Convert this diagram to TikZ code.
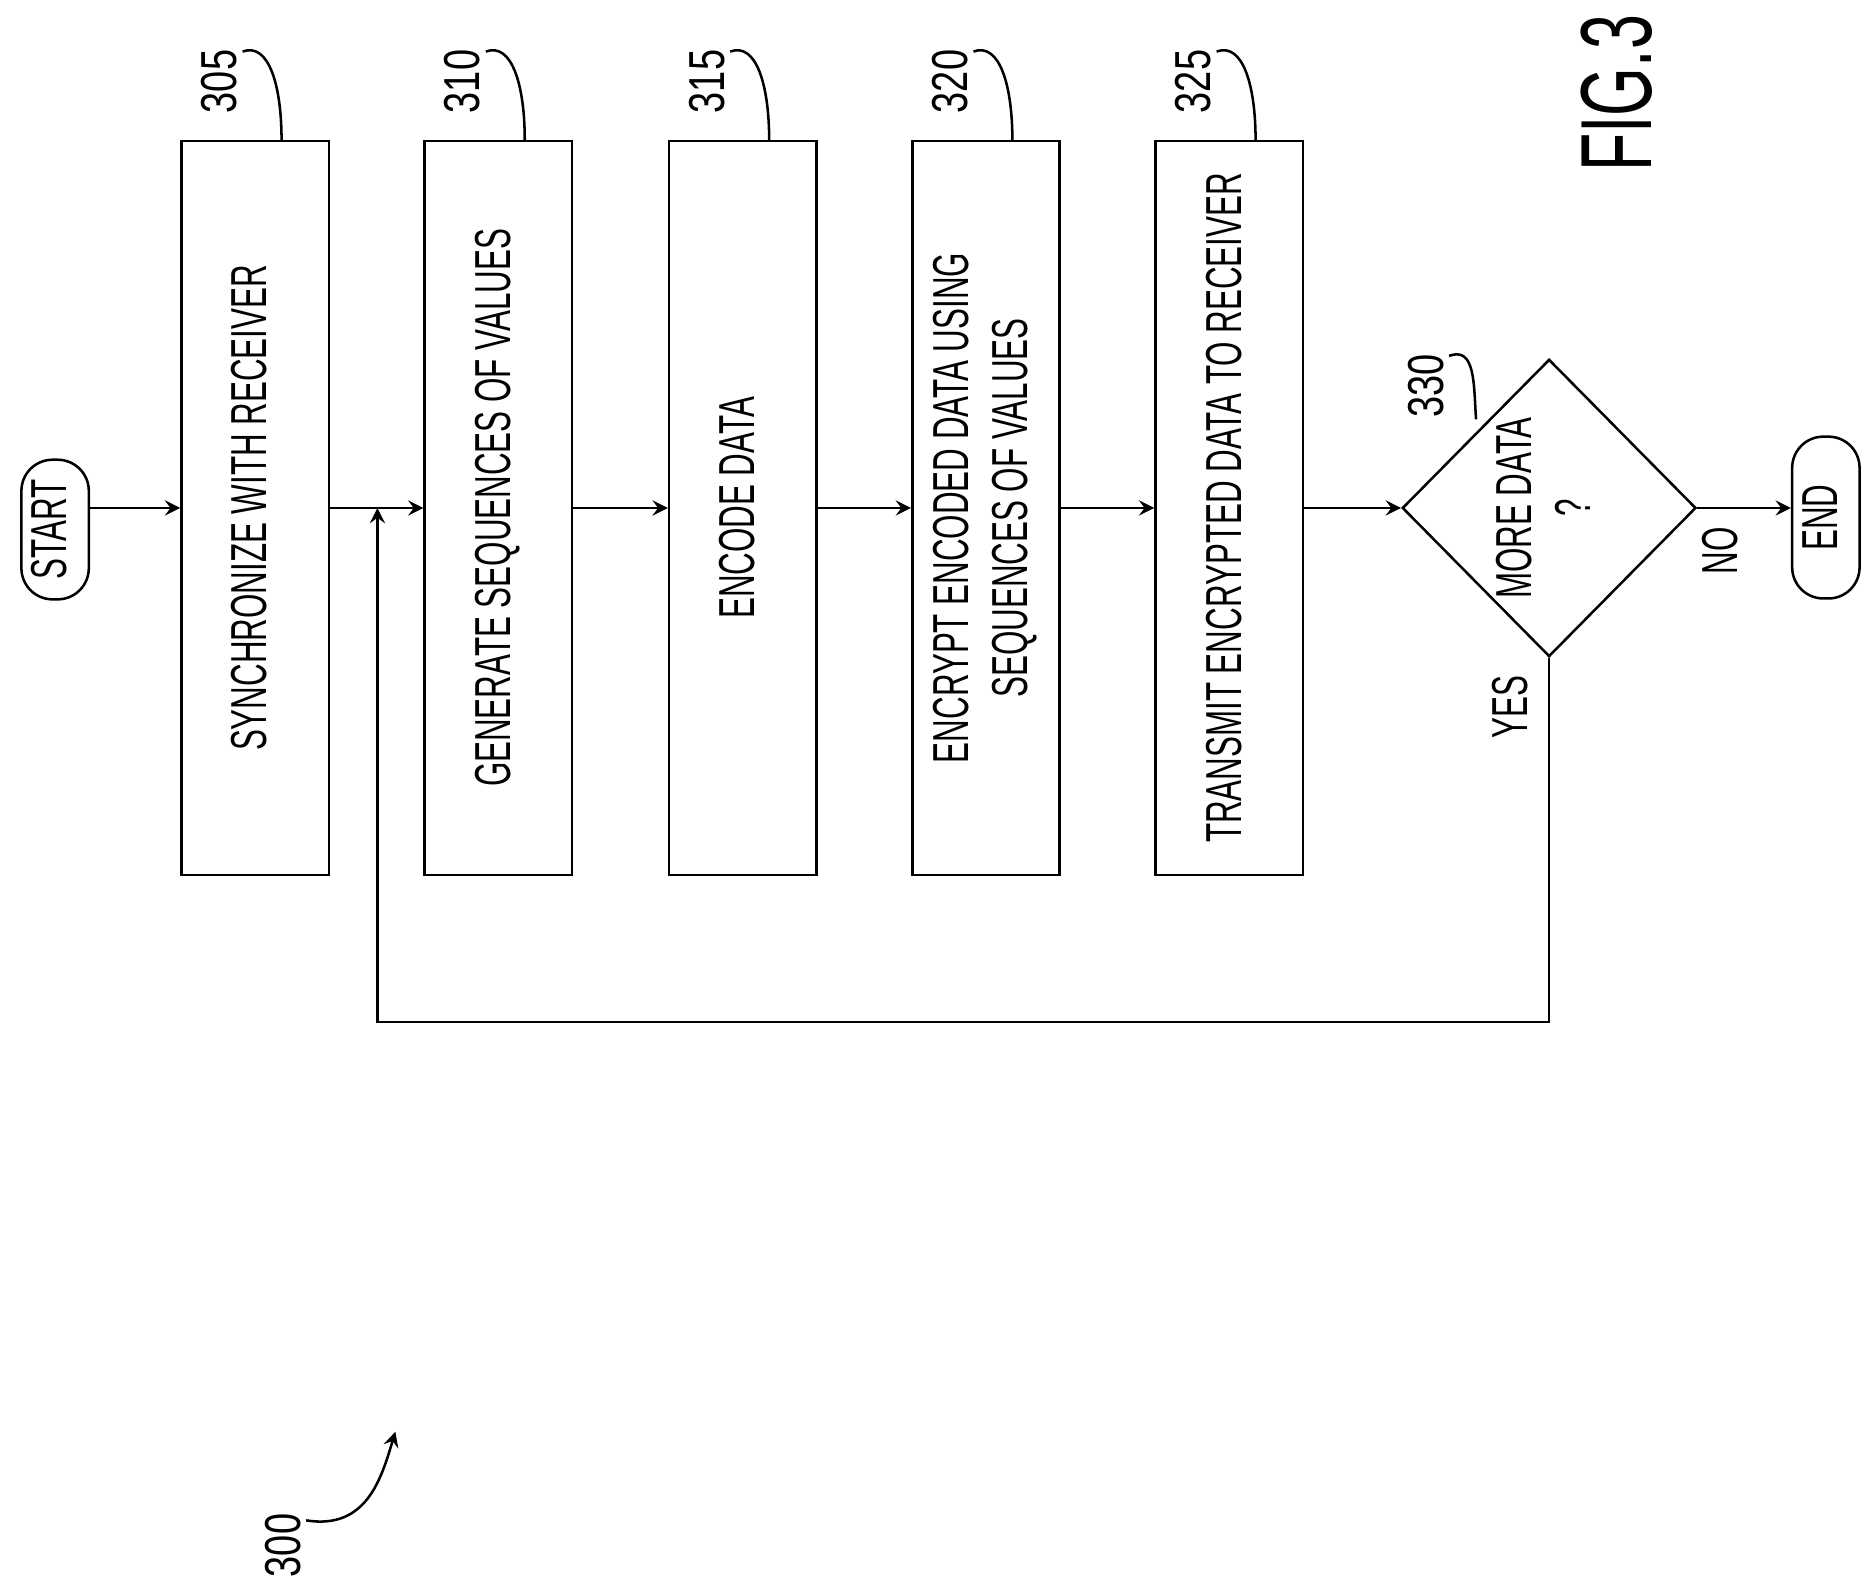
\documentclass[tikz,border=0pt]{standalone}
\usepackage{fontspec}
\setmainfont{Liberation Sans}
\usepackage{tikz}
\usetikzlibrary{calc,positioning,shapes.geometric}
\tikzstyle{block} = [rectangle, draw, minimum width=1.23cm, minimum height=6.12cm, inner sep=0pt]
\tikzstyle{term} = [rectangle, rounded corners=0.26cm, draw, minimum width=0.52cm, inner sep=0pt]
\tikzstyle{lbl} = [font=\fontsize{12}{14}\selectfont, inner sep=1pt]
\newcommand{\vtext}[1]{\rotatebox{90}{\scalebox{0.62}[1]{\begin{tabular}{c}#1\end{tabular}}}}
\newcommand{\vnum}[1]{\rotatebox{90}{\scalebox{0.75}[1]{#1}}}

\begin{document}
\begin{tikzpicture}[x=0.01cm,y=-0.01cm,line width=0.6pt,>=stealth]
      \useasboundingbox (0,0) rectangle (1565,1322);
      \node[term,minimum height=1.15cm,lbl] (Start) at (46,442) {\vtext{START}};
      \node[block,lbl] (Sync) at (213,424) {\vtext{SYNCHRONIZE WITH RECEIVER}};
      \node[block,lbl] (GenSeq) at (416,424) {\vtext{GENERATE SEQUENCES OF VALUES}};
      \node[block,lbl] (Encode) at (620,424) {\vtext{ENCODE DATA}};
      \node[block,lbl] (Encrypt) at (823,424) {\vtext{ENCRYPT ENCODED DATA USING\\SEQUENCES OF VALUES}};
      \node[block,lbl] (Transmit) at (1026,424) {\vtext{TRANSMIT ENCRYPTED DATA TO RECEIVER}};
      \node[diamond,draw,minimum width=2.45cm,minimum height=2.48cm,inner sep=0pt] (More) at (1293,424) {};
      \node[lbl] (MoreText) at (More) {\vtext{MORE DATA\\?}};
      \node[term,minimum height=1.35cm,lbl] (End) at (1524,432) {\vtext{END}};
      %
      \draw[->] (Start.east |- Sync.west) -- (Sync);
      \draw[->] (Sync) -- (GenSeq);
      \draw[->] (GenSeq) -- (Encode);
      \draw[->] (Encode) -- (Encrypt);
      \draw[->] (Encrypt) -- (Transmit);
      \draw[->] (Transmit) -- (More);
      \draw[->] (More) -- (End.west |- More.east);
      \node[lbl] (No) at (1440,460) {\vtext{NO}};
      \coordinate (Loop) at (315,424);
      \draw[->] (More.south) -- ++(0,304) -| (Loop);
      \node[lbl] (Yes) at (1265,590) {\vtext{YES}};
      %
      \foreach \name/\num/\x in {Sync/305/183,GenSeq/310/386,Encode/315/590,Encrypt/320/793,Transmit/325/996}{
        \node[lbl] (L\num) at (\x,68) {\vnum{\num}};
        \draw ($(L\num.north east)+(0,6)$) .. controls +(22,-8) and +(0,-45) .. ($(\name.north)+(22,0)$);
      }
      \node[lbl] (L330) at (1190,322) {\vnum{330}};
      \draw ($(L330.north east)+(0,6)$) .. controls +(22,-8) and +(-2,-30) .. (1232,350);
      \node[lbl] (L300) at (236,1290) {\vnum{300}};
      \coordinate (Arr300) at (330,1195);
      \draw[->] ($(L300.north east)+(0,10)$) .. controls +(50,8) and +(-12,40) .. (Arr300);
      \node[font=\fontsize{24}{26}\selectfont] (Fig) at (1360,78) {\vtext{FIG.3}};
    \end{tikzpicture}
\end{document}
